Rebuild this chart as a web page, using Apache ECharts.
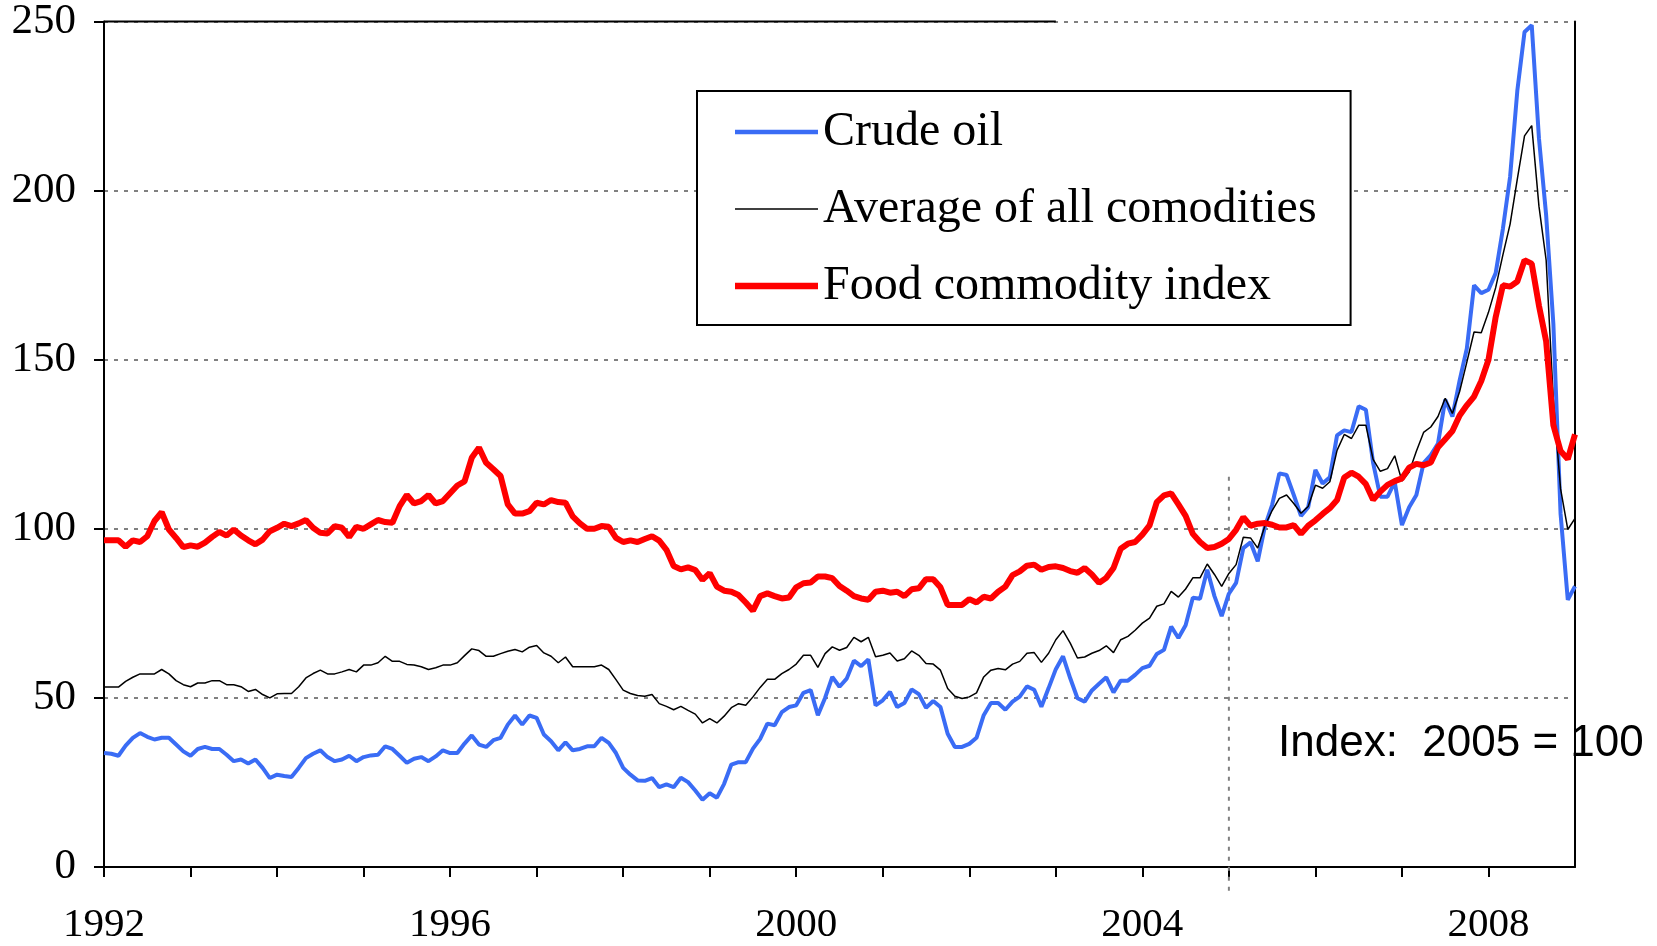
<!DOCTYPE html>
<html>
<head>
<meta charset="utf-8">
<script src="https://cdn.jsdelivr.net/npm/echarts@6/dist/echarts.min.js"></script>
<style>
  html, body { margin: 0; padding: 0; background: #ffffff; }
  #chart { width: 1657px; height: 946px; }
</style>
</head>
<body>
<div id="chart"></div>
<script>
// Monthly series, Jan 1992 .. Jan 2009 (index: 2005 = 100)
const startYear = 1992;
const endYear = 2009;
const yTicks = [0, 50, 100, 150, 200, 250];
const xLabelYears = [1992, 1996, 2000, 2004, 2008];
const seriesNames = ['Crude oil', 'Average of all comodities', 'Food commodity index'];
const baseYear = 2005;
const indexNote = 'Index:  2005 = 100';

const crudeOil = [
  33.7, 33.5, 32.9, 35.9, 38.2, 39.6, 38.5, 37.7, 38.2, 38.2, 36.2, 34.2,
  32.9, 34.9, 35.5, 34.9, 34.9, 33.2, 31.3, 31.8, 30.6, 31.8, 29.3, 26.3,
  27.3, 26.9, 26.6, 29.3, 32.2, 33.5, 34.5, 32.5, 31.3, 31.8, 32.9, 31.3,
  32.5, 33.0, 33.2, 35.7, 34.9, 32.9, 30.8, 32.0, 32.5, 31.3, 32.7, 34.5,
  33.7, 33.7, 36.5, 38.9, 36.2, 35.5, 37.5, 38.2, 42.1, 44.8, 42.1, 44.8,
  44.1, 39.2, 37.2, 34.5, 36.9, 34.5, 34.9, 35.7, 35.7, 38.2, 36.7, 33.7,
  29.3, 27.3, 25.6, 25.5, 26.3, 23.6, 24.4, 23.6, 26.4, 25.1, 22.6, 19.9,
  21.8, 20.5, 24.6, 30.3, 31.0, 31.0, 35.0, 37.9, 42.4, 41.9, 45.8, 47.3,
  47.8, 51.5, 52.3, 44.9, 50.0, 56.2, 53.3, 55.7, 61.0, 59.4, 61.4, 47.8,
  49.3, 51.8, 47.3, 48.5, 52.5, 51.1, 47.1, 49.1, 47.3, 39.4, 35.5, 35.5,
  36.4, 38.2, 44.9, 48.5, 48.5, 46.5, 48.9, 50.4, 53.4, 52.4, 47.4, 52.9,
  58.5, 62.3, 55.8, 49.9, 48.9, 52.2, 54.2, 56.1, 51.6, 55.1, 55.1, 56.8,
  58.8, 59.5, 63.0, 64.2, 71.1, 67.7, 71.5, 79.6, 79.3, 87.9, 80.1, 74.2,
  80.8, 84.0, 94.3, 96.0, 90.4, 100.7, 107.1, 116.4, 115.9, 110.0, 103.8, 106.4,
  117.4, 113.4, 115.2, 127.6, 129.1, 128.6, 136.2, 135.2, 119.5, 109.5, 109.5, 113.8,
  101.1, 106.4, 110.0, 119.4, 121.8, 125.2, 138.2, 133.2, 143.9, 153.3, 172.0, 169.7,
  170.7, 175.6, 188.7, 204.1, 229.5, 246.9, 248.9, 215.5, 192.7, 160.6, 104.4, 79.0,
  83.0
];

const allCommodities = [
  53.2, 53.2, 53.2, 54.9, 56.1, 57.1, 57.1, 57.1, 58.4, 57.1, 55.1, 53.9,
  53.3, 54.4, 54.4, 55.1, 55.1, 53.9, 53.9, 53.3, 51.9, 52.5, 51.0, 50.0,
  51.2, 51.3, 51.3, 53.3, 55.9, 57.2, 58.2, 57.1, 57.1, 57.7, 58.4, 57.7,
  59.7, 59.7, 60.4, 62.3, 60.8, 60.8, 59.9, 59.7, 59.2, 58.4, 58.9, 59.7,
  59.7, 60.4, 62.5, 64.5, 64.0, 62.3, 62.3, 63.1, 63.8, 64.3, 63.6, 65.0,
  65.5, 63.3, 62.3, 60.4, 62.1, 59.2, 59.2, 59.2, 59.2, 59.7, 58.4, 55.4,
  52.3, 51.3, 50.7, 50.5, 51.0, 48.3, 47.5, 46.5, 47.5, 46.3, 45.2, 42.6,
  43.9, 42.6, 44.6, 47.1, 48.3, 47.8, 50.3, 53.1, 55.5, 55.5, 57.2, 58.4,
  60.0, 62.6, 62.6, 59.0, 63.1, 65.1, 64.1, 64.9, 67.9, 66.6, 67.9, 62.2,
  62.6, 63.3, 60.9, 61.6, 63.9, 62.6, 60.2, 60.0, 58.2, 52.8, 50.5, 49.8,
  50.3, 51.5, 56.2, 58.2, 58.7, 58.3, 60.0, 60.8, 63.2, 63.4, 60.5, 63.2,
  67.2, 69.9, 66.2, 61.8, 62.1, 63.2, 64.0, 65.4, 63.4, 67.2, 68.2, 70.0,
  72.1, 73.6, 77.1, 77.8, 81.5, 79.8, 82.2, 85.5, 85.5, 89.6, 86.5, 83.0,
  86.8, 89.4, 97.5, 97.3, 94.3, 100.9, 105.4, 109.0, 110.0, 107.5, 104.6, 106.6,
  112.9, 112.0, 113.9, 123.2, 127.9, 126.7, 130.6, 130.6, 120.5, 117.0, 117.8, 121.6,
  114.1, 116.8, 122.9, 128.5, 130.1, 133.2, 138.6, 134.1, 140.6, 149.3, 158.2, 158.0,
  164.0, 171.3, 181.0, 190.1, 203.4, 216.2, 219.2, 195.4, 179.4, 137.9, 111.8, 99.8,
  103.1
];

const foodIndex = [
  96.6, 96.6, 96.6, 94.7, 96.6, 96.1, 97.8, 102.3, 104.9, 99.8, 97.3, 94.6,
  95.1, 94.7, 95.9, 97.6, 99.1, 98.0, 99.8, 98.0, 96.6, 95.4, 96.8, 99.3,
  100.3, 101.5, 100.8, 101.6, 102.6, 100.3, 98.8, 98.6, 100.8, 100.3, 97.6, 100.6,
  100.0, 101.3, 102.6, 102.0, 101.8, 106.7, 110.0, 107.5, 108.2, 110.0, 107.5, 108.2,
  110.5, 112.8, 114.0, 121.0, 124.0, 119.5, 117.6, 115.6, 107.2, 104.5, 104.5, 105.2,
  107.7, 107.2, 108.5, 107.9, 107.7, 103.7, 101.6, 100.0, 100.0, 100.8, 100.6, 97.3,
  96.1, 96.6, 96.1, 97.0, 97.8, 96.5, 93.8, 89.0, 88.0, 88.6, 87.8, 84.9,
  86.9, 82.9, 81.7, 81.4, 80.4, 78.2, 75.8, 80.1, 80.9, 80.1, 79.4, 79.7,
  82.7, 83.9, 84.1, 85.9, 85.9, 85.4, 83.1, 81.7, 80.1, 79.4, 79.0, 81.4,
  81.7, 81.1, 81.4, 80.1, 82.1, 82.4, 85.1, 85.1, 82.7, 77.5, 77.5, 77.5,
  79.2, 78.2, 79.9, 79.4, 81.4, 82.9, 86.3, 87.4, 89.1, 89.4, 87.9, 88.7,
  88.9, 88.4, 87.5, 87.0, 88.4, 86.5, 84.0, 85.5, 88.4, 94.1, 95.6, 96.1,
  98.3, 101.0, 107.9, 109.9, 110.5, 107.2, 103.8, 98.5, 96.1, 94.3, 94.6, 95.6,
  97.0, 99.7, 103.4, 100.9, 101.5, 101.7, 101.2, 100.4, 100.4, 101.1, 98.5, 100.9,
  102.5, 104.4, 106.1, 108.5, 115.2, 116.6, 115.4, 113.2, 108.6, 111.0, 113.0, 114.1,
  114.9, 118.1, 119.2, 118.8, 119.6, 124.1, 126.5, 128.9, 133.5, 136.5, 139.1, 143.7,
  150.0, 162.6, 172.0, 171.6, 173.1, 179.4, 178.4, 166.0, 155.4, 130.6, 123.0, 120.6,
  127.9
];

// month index -> fractional year on the value axis
function toPairs(arr) {
  return arr.map(function (v, i) { return [startYear + i / 12, v]; });
}

const chart = echarts.init(document.getElementById('chart'), null, { renderer: 'canvas' });

const serifFont = 'Liberation Serif, Times New Roman, serif';

const option = {
  backgroundColor: '#ffffff',
  animation: false,
  grid: { left: 104, right: 82, top: 21, bottom: 76, containLabel: false },
  legend: {
    show: true,
    orient: 'vertical',
    left: 697,
    top: 91,
    data: [
      { name: seriesNames[0], icon: 'path://M0,0H78V4H0Z' },
      { name: seriesNames[1], icon: 'path://M0,0H78V1.5H0Z' },
      { name: seriesNames[2], icon: 'path://M0,0H78V6H0Z' }
    ],
    symbolKeepAspect: true,
    backgroundColor: '#ffffff',
    borderColor: '#000000',
    borderWidth: 2,
    borderRadius: 0,
    padding: [17, 34, 15, 38],
    itemWidth: 83,
    itemHeight: 14,
    itemGap: 29,
    selectedMode: false,
    textStyle: { fontFamily: serifFont, fontSize: 48, color: '#000000', lineHeight: 46 }
  },
  xAxis: {
    type: 'value',
    min: startYear,
    max: endYear,
    interval: 1,
    axisLine: { show: true, onZero: false, lineStyle: { color: '#000000', width: 2 } },
    axisTick: { show: true, inside: false, length: 10, lineStyle: { color: '#000000', width: 2 } },
    splitLine: { show: false },
    axisLabel: {
      show: true,
      margin: 38,
      fontFamily: serifFont,
      fontSize: 41,
      color: '#000000',
      showMaxLabel: false,
      formatter: function (v) {
        const y = Math.round(v);
        return xLabelYears.indexOf(y) >= 0 ? String(y) : '';
      }
    }
  },
  yAxis: [
    {
      type: 'value',
      min: yTicks[0],
      max: yTicks[yTicks.length - 1],
      interval: yTicks[1] - yTicks[0],
      axisLine: { show: true, lineStyle: { color: '#000000', width: 2 } },
      axisTick: { show: true, inside: false, length: 10, lineStyle: { color: '#000000', width: 2 } },
      splitLine: { show: true, lineStyle: { color: '#808080', width: 2, type: [4, 6] } },
      axisLabel: { margin: 28, fontFamily: serifFont, fontSize: 43, color: '#000000' }
    },
    {
      type: 'value',
      position: 'right',
      min: yTicks[0],
      max: yTicks[yTicks.length - 1],
      interval: yTicks[1] - yTicks[0],
      axisLine: { show: true, lineStyle: { color: '#000000', width: 2 } },
      axisTick: { show: false },
      axisLabel: { show: false },
      splitLine: { show: false }
    }
  ],
  series: [
    {
      name: 'base-year-marker',
      type: 'line',
      clip: false,
      silent: true,
      symbol: 'none',
      z: 1,
      lineStyle: { color: '#808080', width: 2, type: [4, 6] },
      data: [[baseYear, -7], [baseYear, 116]]
    },
    {
      name: 'top-border',
      type: 'line',
      clip: false,
      silent: true,
      symbol: 'none',
      z: 1,
      lineStyle: { color: '#000000', width: 2 },
      data: [[startYear, yTicks[yTicks.length - 1]], [2003, yTicks[yTicks.length - 1]]]
    },
    {
      name: seriesNames[0],
      type: 'line',
      symbol: 'none',
      z: 3,
      color: '#3a6cf5',
      lineStyle: { color: '#3a6cf5', width: 4 },
      data: toPairs(crudeOil)
    },
    {
      name: seriesNames[1],
      type: 'line',
      symbol: 'none',
      z: 4,
      color: '#000000',
      lineStyle: { color: '#000000', width: 1.5 },
      data: toPairs(allCommodities)
    },
    {
      name: seriesNames[2],
      type: 'line',
      symbol: 'none',
      z: 5,
      color: '#ff0000',
      lineStyle: { color: '#ff0000', width: 6 },
      data: toPairs(foodIndex)
    }
  ],
  graphic: [
    {
      type: 'text',
      left: 1278,
      top: 722,
      z: 100,
      style: {
        text: indexNote,
        fontFamily: 'Liberation Sans, Arial, sans-serif',
        fontSize: 44,
        fill: '#000000'
      }
    }
  ]
};

chart.setOption(option);
</script>
</body>
</html>
